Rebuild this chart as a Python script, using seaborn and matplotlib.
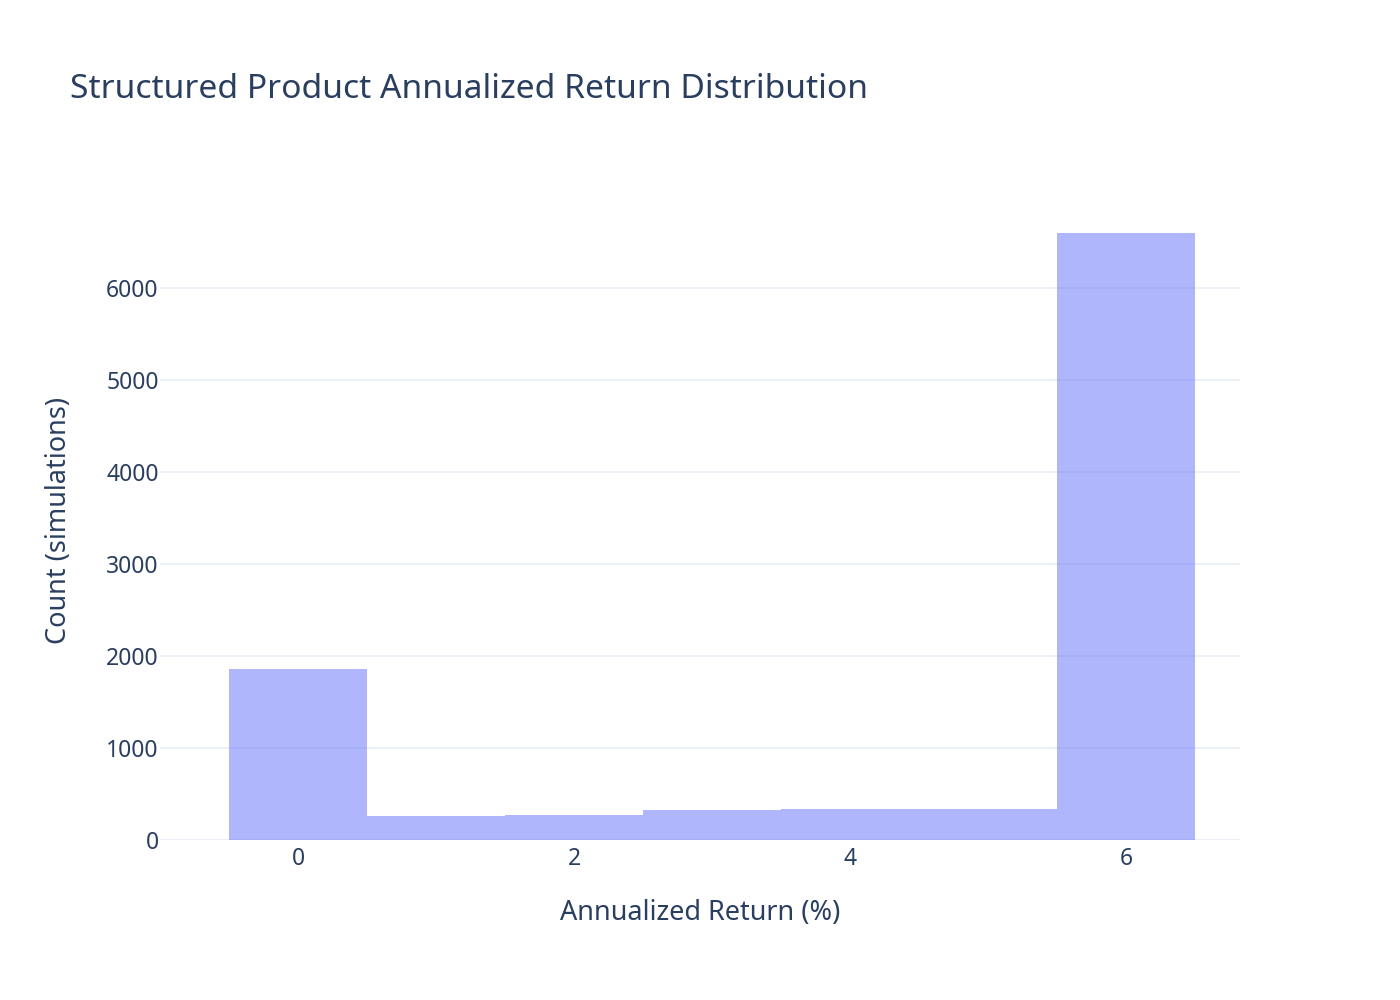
import matplotlib
matplotlib.use("Agg")
import matplotlib.pyplot as plt
import seaborn as sns
import pandas as pd

# Data
return_bins = [0, 1, 2, 3, 4, 5, 6]          # annualized return bin centers (%)
counts = [1860, 264, 272, 326, 337, 337, 6600]  # simulations per bin
x_ticks = [0, 2, 4, 6]
y_ticks = [0, 1000, 2000, 3000, 4000, 5000, 6000]

title = "Structured Product Annualized Return Distribution"
x_label = "Annualized Return (%)"
y_label = "Count (simulations)"

sns.set_style("white")
plt.rcParams["font.family"] = ["Noto Sans", "DejaVu Sans"]

text_color = "#2a3f5f"
grid_color = "#EBF0F8"

df = pd.DataFrame({"ret": return_bins, "n": counts})

fig = plt.figure(figsize=(14, 10), dpi=100)
ax = fig.add_axes([0.1143, 0.16, 0.7714, 0.639])

sns.histplot(data=df, x="ret", weights="n", discrete=True, ax=ax,
             color="#636efa", alpha=0.5, linewidth=0, edgecolor="none",
             shrink=1.0, zorder=3)

ax.set_xlim(-1.0, 6.826)
ax.set_ylim(0, 6947)
ax.set_xticks(x_ticks)
ax.set_yticks(y_ticks)
ax.set_xticklabels([str(t) for t in x_ticks])
ax.set_yticklabels([str(t) for t in y_ticks])

for s in ax.spines.values():
    s.set_visible(False)
ax.grid(axis="y", color=grid_color, linewidth=1.3, zorder=0)
ax.grid(axis="x", visible=False)
ax.axhline(0, color=grid_color, linewidth=2.2, zorder=2)

ax.tick_params(axis="both", length=0, labelsize=16.5, colors=text_color)
ax.tick_params(axis="x", pad=5)
ax.tick_params(axis="y", pad=1)

ax.set_xlabel(x_label, fontsize=19.5, color=text_color, labelpad=20)
ax.set_ylabel(y_label, fontsize=19.5, color=text_color, labelpad=24)

fig.text(70 / 1400, 1 - 89 / 1000, title, fontsize=24.2, color=text_color,
         ha="left", va="center")

fig.savefig("out.png", dpi=100, facecolor="white")
